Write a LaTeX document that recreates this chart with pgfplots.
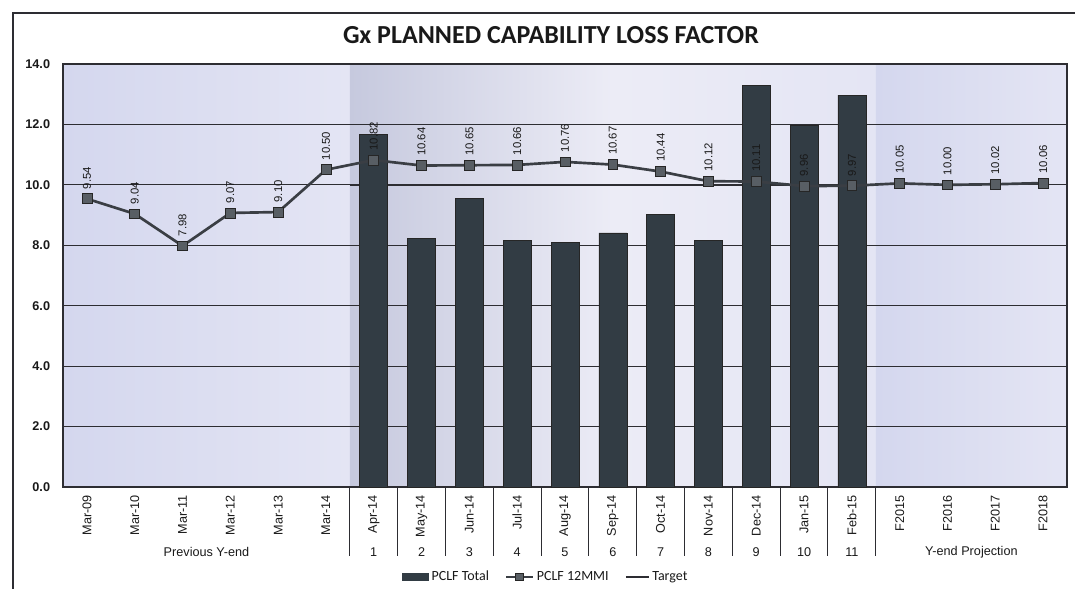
\documentclass[border=0pt]{standalone}
\usepackage{pgfplots}
\pgfplotsset{compat=1.18}
\usepackage{fontspec}
\setmainfont{Liberation Sans}
\newfontfamily\calibri{Carlito}
\definecolor{barc}{RGB}{50,60,68}
\definecolor{linec}{RGB}{58,62,68}
\definecolor{markc}{RGB}{88,94,100}
\definecolor{gridc}{RGB}{45,45,50}
\definecolor{bgA}{RGB}{212,215,238}
\definecolor{bgB}{RGB}{228,229,244}
\definecolor{bgC}{RGB}{198,201,222}
\definecolor{bgD}{RGB}{236,236,246}
\definecolor{txt}{RGB}{25,25,25}
\begin{document}
\begin{tikzpicture}
\begin{axis}[
  set layers,
  scale only axis,
  width=753pt, height=317.25pt,
  xmin=-0.5, xmax=20.5, ymin=0, ymax=14,
  xtick={0,...,20},
  xticklabels={Mar-09,Mar-10,Mar-11,Mar-12,Mar-13,Mar-14,Apr-14,May-14,Jun-14,Jul-14,Aug-14,Sep-14,Oct-14,Nov-14,Dec-14,Jan-15,Feb-15,F2015,F2016,F2017,F2018},
  xticklabel style={font=\fontsize{9.5}{11}\selectfont, text=txt, rotate=90, anchor=east, inner sep=0pt},
  xticklabel shift=6pt,
  ytick={0,2,...,14},
  yticklabel={\pgfmathprintnumber[fixed,fixed zerofill,precision=1,assume math mode=true]{\tick}},
  yticklabel style={font=\bfseries\fontsize{9.5}{11}\selectfont, text=txt, inner sep=0pt},
  yticklabel shift=9.5pt,
  major tick length=0pt,
  ymajorgrids,
  grid style={gridc, line width=0.6pt},
  axis line style={gridc, line width=0.8pt},
  clip=false,
  legend style={at={(0.481,-0.213)}, anchor=center, legend columns=-1, draw=none, fill=none,
    font=\calibri\fontsize{10.5}{12}\selectfont, text=txt,
    /tikz/every even column/.append style={column sep=10pt}},
]
\begin{pgfonlayer}{axis background}
  \fill[left color=bgA, right color=bgB] (axis cs:-0.5,0) rectangle (axis cs:5.5,14);
  \fill[left color=bgC, right color=bgD] (axis cs:5.5,0) rectangle (axis cs:11,14);
  \fill[left color=bgD, right color=bgB] (axis cs:11,0) rectangle (axis cs:16.5,14);
  \fill[left color=bgA, right color=bgB] (axis cs:16.5,0) rectangle (axis cs:20.5,14);
\end{pgfonlayer}

\addplot[forget plot, line width=1.6pt, color=gridc] coordinates {(5.5,10.0) (16.5,10.0)};

\addplot[ybar, bar width=21pt, bar shift=0pt, fill=barc, draw=black!85, line width=0.4pt,
  legend image code/.code={\fill[barc] (0pt,-2.5pt) rectangle (20pt,2.5pt);}]
  coordinates {(6,11.68) (7,8.22) (8,9.54) (9,8.15) (10,8.10) (11,8.41) (12,9.03) (13,8.15) (14,13.30) (15,11.98) (16,12.97)};
\addlegendentry{PCLF Total}

\addplot[color=linec, line width=2pt, mark=square*, mark size=3.7pt,
  mark options={fill=markc, draw=black!85, line width=0.5pt},
  nodes near coords={\pgfmathprintnumber[fixed,fixed zerofill,precision=2,assume math mode=true]{\pgfplotspointmeta}},
  nodes near coords style={font=\fontsize{8.5}{10}\selectfont, text=txt, rotate=90, anchor=west, inner xsep=7pt, inner ysep=0pt},
  legend image code/.code={\draw[linec, line width=1.8pt] (0pt,0pt) -- (20pt,0pt);
     \fill[markc, draw=black!85, line width=0.4pt] (7pt,-2.5pt) rectangle (13pt,2.5pt);}]
  coordinates {(0,9.54) (1,9.04) (2,7.98) (3,9.07) (4,9.10) (5,10.50) (6,10.82) (7,10.64) (8,10.65) (9,10.66) (10,10.76) (11,10.67) (12,10.44) (13,10.12) (14,10.11) (15,9.96) (16,9.97) (17,10.05) (18,10.00) (19,10.02) (20,10.06)};
\addlegendentry{PCLF 12MMI}

\addlegendimage{line legend, gridc, line width=1.6pt}
\addlegendentry{Target}

\pgfplotsinvokeforeach{5.5,6.5,7.5,8.5,9.5,10.5,11.5,12.5,13.5,14.5,15.5,16.5}{
  \draw[gridc, line width=0.7pt] (axis cs:#1,0) -- ([yshift=-52pt]axis cs:#1,0);
}
\node[font=\fontsize{9.5}{11}\selectfont, text=txt] at ([yshift=-48.75pt]axis cs:2.5,0) {Previous Y-end};
\node[font=\fontsize{9.5}{11}\selectfont, text=txt] at ([yshift=-48.75pt]axis cs:18.5,0) {Y-end Projection};
\node[font=\fontsize{9.5}{11}\selectfont, text=txt] at ([yshift=-48.75pt]axis cs:6,0) {1};
\node[font=\fontsize{9.5}{11}\selectfont, text=txt] at ([yshift=-48.75pt]axis cs:7,0) {2};
\node[font=\fontsize{9.5}{11}\selectfont, text=txt] at ([yshift=-48.75pt]axis cs:8,0) {3};
\node[font=\fontsize{9.5}{11}\selectfont, text=txt] at ([yshift=-48.75pt]axis cs:9,0) {4};
\node[font=\fontsize{9.5}{11}\selectfont, text=txt] at ([yshift=-48.75pt]axis cs:10,0) {5};
\node[font=\fontsize{9.5}{11}\selectfont, text=txt] at ([yshift=-48.75pt]axis cs:11,0) {6};
\node[font=\fontsize{9.5}{11}\selectfont, text=txt] at ([yshift=-48.75pt]axis cs:12,0) {7};
\node[font=\fontsize{9.5}{11}\selectfont, text=txt] at ([yshift=-48.75pt]axis cs:13,0) {8};
\node[font=\fontsize{9.5}{11}\selectfont, text=txt] at ([yshift=-48.75pt]axis cs:14,0) {9};
\node[font=\fontsize{9.5}{11}\selectfont, text=txt] at ([yshift=-48.75pt]axis cs:15,0) {10};
\node[font=\fontsize{9.5}{11}\selectfont, text=txt] at ([yshift=-48.75pt]axis cs:16,0) {11};
\end{axis}
\node[font=\calibri\bfseries\fontsize{19.5}{22}\selectfont, text=txt] at (366pt,338.6pt) {Gx PLANNED CAPABILITY LOSS FACTOR};
\draw[gridc, line width=0.8pt] (-37.5pt,-80pt) -- (-37.5pt,355.5pt) -- (765pt,355.5pt);
\pgfresetboundingbox
\path[use as bounding box] (-47.25pt,-76.5pt) rectangle (759pt,365.25pt);
\end{tikzpicture}
\end{document}
